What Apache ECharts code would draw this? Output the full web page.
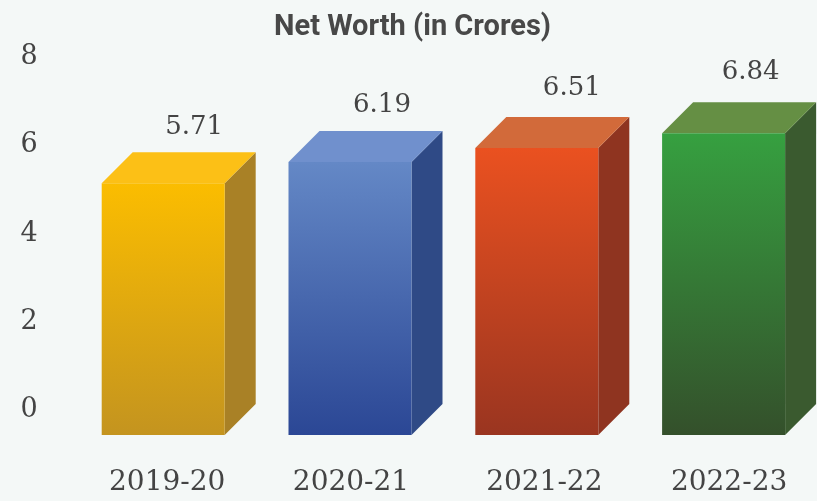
<!DOCTYPE html>
<html>
<head>
<meta charset="utf-8">
<style>html,body{margin:0;padding:0;background:#f4f8f7}#chart{width:817px;height:501px}</style>
<script src="https://cdn.jsdelivr.net/npm/echarts@6/dist/echarts.min.js"></script>
</head>
<body>
<div id="chart"></div>
<script>
const categories = ['2019-20', '2020-21', '2021-22', '2022-23'];
const netWorth = [5.71, 6.19, 6.51, 6.84];
const yTicks = [0, 2, 4, 6, 8];

// Face colours per bar: front gradient top/bottom, side, lid
const frontTop = ['#fbbd00', '#6488c6', '#ea5120', '#36a040'];
const frontBottom = ['#c4941f', '#2b4795', '#9a3520', '#34502b'];
const sideColor = ['#a98126', '#2f4a86', '#8f3420', '#3a5a2f'];
const lidColor = ['#fcc016', '#7090cd', '#d26a3a', '#658f44'];

const DEPTH = 31;
const BAR_WIDTH = 123;
// The back plane of each box sits a little above the axis zero line
const BACK_LIFT = 6;

// Hand-placed nudges for the value labels, [dx, dy] per bar
const valueNudge = [[0, 4], [1, 3], [4, 0], [-4, -1]];

const chart = echarts.init(document.getElementById('chart'), null, {renderer: 'canvas'});

// Each bar is a pseudo-3D box: the lid and side run up-right from the front face.
function renderBox(params, api) {
  const i = params.dataIndex;
  const top = api.coord([api.value(0), api.value(1)]);
  const base = api.coord([api.value(0), 0]);
  const x0 = top[0] - BAR_WIDTH / 2;
  const x1 = top[0] + BAR_WIDTH / 2;
  const backTop = top[1] - BACK_LIFT;
  const backBase = base[1] - BACK_LIFT;
  const frontY = backTop + DEPTH;
  const bottomY = backBase + DEPTH;
  return {
    type: 'group',
    children: [
      {
        type: 'polygon',
        shape: {points: [[x1, frontY], [x1 + DEPTH, backTop], [x1 + DEPTH, backBase], [x1, bottomY]]},
        style: {fill: sideColor[i]}
      },
      {
        type: 'polygon',
        shape: {points: [[x0, frontY], [x0 + DEPTH, backTop], [x1 + DEPTH, backTop], [x1, frontY]]},
        style: {fill: lidColor[i]}
      },
      {
        type: 'rect',
        shape: {x: x0, y: frontY, width: BAR_WIDTH, height: bottomY - frontY},
        style: {
          fill: new echarts.graphic.LinearGradient(0, 0, 0, 1, [
            {offset: 0, color: frontTop[i]},
            {offset: 1, color: frontBottom[i]}
          ])
        }
      },
      {
        type: 'text',
        x: top[0] + DEPTH + valueNudge[i][0],
        y: backTop - 29 + valueNudge[i][1],
        style: {
          text: api.value(1).toFixed(2),
          fill: '#444444',
          font: '26px "DejaVu Serif"',
          align: 'center',
          verticalAlign: 'middle'
        }
      }
    ]
  };
}

// Category labels sit slightly off the bar centres, one rich style per label
const labelStyle = {color: '#444444', fontFamily: 'DejaVu Serif', fontSize: 28};

chart.setOption({
  backgroundColor: '#f4f8f7',
  animation: false,
  title: {
    text: 'Net Worth (in Crores)',
    left: 407.5,
    top: 8,
    textAlign: 'center',
    textStyle: {color: '#484848', fontFamily: 'Roboto', fontWeight: 'bold', fontSize: 29}
  },
  grid: {left: 69.8, right: 0, top: 57.2, bottom: 91},
  xAxis: {
    type: 'category',
    data: categories,
    axisLine: {show: false},
    axisTick: {show: false},
    axisLabel: {
      margin: 59,
      formatter: (value, index) => `{c${index}|${value}}`,
      rich: {
        c0: {...labelStyle, padding: [0, 0, 0, 8]},
        c1: {...labelStyle, padding: [0, 0, 0, 2]},
        c2: {...labelStyle, padding: [0, 0, 0, 15]},
        c3: {...labelStyle, padding: [0, 0, 0, 11]}
      }
    }
  },
  yAxis: {
    type: 'value',
    min: yTicks[0],
    max: yTicks[yTicks.length - 1],
    interval: yTicks[1] - yTicks[0],
    splitLine: {show: false},
    axisLine: {show: false},
    axisTick: {show: false},
    axisLabel: {
      color: '#444444',
      fontFamily: 'DejaVu Serif',
      fontSize: 27,
      margin: 32
    }
  },
  series: [{
    type: 'custom',
    clip: false,
    renderItem: renderBox,
    encode: {x: 0, y: 1},
    data: categories.map((c, i) => [i, netWorth[i]])
  }]
});
</script>
</body>
</html>
